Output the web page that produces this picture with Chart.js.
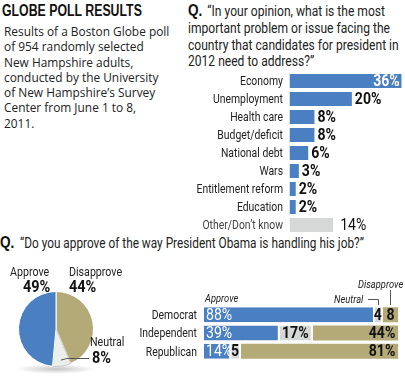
<!DOCTYPE html>
<html><head><meta charset="utf-8">
<script src="https://cdn.jsdelivr.net/npm/chart.js@4"></script>
<style>
html,body{margin:0;padding:0;background:#fff;}
body{width:405px;height:381px;position:relative;overflow:hidden;font-family:Roboto,sans-serif;color:#222;}
.t{position:absolute;white-space:nowrap;transform-origin:0 0;}
#title{left:2px;top:2px;font:bold 16px "Liberation Sans",sans-serif;color:#111;transform:scaleX(0.77);}
#body{left:4px;top:24px;font:13.5px "Open Sans",sans-serif;line-height:15.3px;color:#222;transform:scaleX(0.88);}
.qm{font:bold 16px "Liberation Sans",sans-serif;color:#111;transform:scaleX(0.85);}
.q1{font:15px Roboto,sans-serif;line-height:16.8px;color:#222;transform:scaleX(0.805);}
.q2{font:14px Roboto,sans-serif;color:#222;transform:scaleX(0.845);}
canvas{position:absolute;}
</style></head><body>
<div class="t" id="title">GLOBE POLL RESULTS</div>
<div class="t" id="body">Results of a Boston Globe poll<br>of 954 randomly selected<br>New Hampshire adults,<br>conducted by the University<br>of New Hampshire’s Survey<br>Center from June 1 to 8,<br>2011.</div>
<div class="t qm" style="left:188px;top:2px;">Q.</div>
<div class="t q1" style="left:188px;top:3px;"><span style="padding-left:24px">“In your opinion, what is the most</span><br>important problem or issue facing the<br>country that candidates for president in<br>2012 need to address?”</div>
<div class="t qm" style="left:0px;top:234px;">Q.</div>
<div class="t q2" style="left:20px;top:235px;">“Do you approve of the way President Obama is handling his job?”</div>

<canvas id="c1" width="215" height="162" style="left:190px;top:72px;width:215px;height:162px"></canvas>
<canvas id="c2" width="130" height="119" style="left:0px;top:262px;width:130px;height:119px"></canvas>
<canvas id="c3" width="305" height="90" style="left:100px;top:278px;width:305px;height:90px"></canvas>
<script>
// ---- data ----
const issueLabels = ["Economy","Unemployment","Health care","Budget/deficit","National debt","Wars","Entitlement reform","Education","Other/Don’t know"];
const issueValues = [36,20,8,8,6,3,2,2,14];
const pieLabels = ["Disapprove","Neutral","Approve"];
const pieValues = [44,8,49];
const partyLabels = ["Democrat","Independent","Republican"];
const partyApprove = [88,39,14];
const partyNeutral = [4,17,5];
const partyDisapprove = [8,44,81];

const BLUE="#4a7fc1", TAN="#b3aa78", GRAY="#d6d7d7", PIEGRAY="#eceeec";
const F='Roboto, sans-serif';

Chart.defaults.animation=false;

function txt(ctx,s,x,y,align,font,color,sx,base){
  ctx.save();ctx.font=font;ctx.fillStyle=color;ctx.textAlign=align;ctx.textBaseline=base||'middle';
  ctx.translate(x,y);ctx.scale(sx,1);ctx.fillText(s,0,0);ctx.restore();
}

// ---- chart 1: issues ----
new Chart(document.getElementById('c1'),{
  type:'bar',
  data:{labels:issueLabels,datasets:[{data:issueValues,
    backgroundColor:issueValues.map((v,i)=>i===issueValues.length-1?GRAY:BLUE),
    barPercentage:0.78,categoryPercentage:1}]},
  options:{indexAxis:'y',responsive:false,maintainAspectRatio:false,devicePixelRatio:1,
    layout:{padding:{left:99.5,right:3.3,top:0,bottom:0}},
    plugins:{legend:{display:false},tooltip:{enabled:false}},
    scales:{x:{display:false,min:0,max:36},y:{display:false}}},
  plugins:[{id:'vals',afterDatasetsDraw(ch){
    const ctx=ch.ctx, meta=ch.getDatasetMeta(0), ys=ch.scales.y;
    issueLabels.forEach((l,i)=>{
      txt(ctx,l,93,ys.getPixelForValue(i)+1,'right','13px '+F,i===8?'#444':'#222',0.8);
    });
    meta.data.forEach((b,i)=>{
      const v=issueValues[i], t=v+'%';
      if(i===0) txt(ctx,t,b.x-2,b.y+1,'right','bold 16px '+F,'#fff',0.88);
      else txt(ctx,t,b.x+(i===8?7:3),b.y+1,'left',(i===8?'':'bold ')+'16px '+F,'#111',0.88);
    });}}]
});

// ---- chart 2: pie ----
new Chart(document.getElementById('c2'),{
  type:'pie',
  data:{labels:pieLabels,datasets:[{data:pieValues,backgroundColor:[TAN,PIEGRAY,BLUE],
    borderColor:['#fff','#c8cac8','#fff'],borderWidth:1}]},
  options:{responsive:false,maintainAspectRatio:false,devicePixelRatio:1,
    layout:{padding:{left:18,right:36,top:29,bottom:14}},
    plugins:{legend:{display:false},tooltip:{enabled:false}}},
  plugins:[{id:'shadow',beforeDatasetsDraw(ch){
    const ctx=ch.ctx, a=ch.chartArea;
    const cx=(a.left+a.right)/2, cy=a.bottom+2;
    ctx.save();
    ctx.translate(cx,cy);ctx.scale(1,0.12);
    const g=ctx.createRadialGradient(0,0,0,0,0,40);
    g.addColorStop(0,'rgba(150,150,150,0.55)');g.addColorStop(1,'rgba(150,150,150,0)');
    ctx.fillStyle=g;ctx.beginPath();ctx.arc(0,0,40,0,Math.PI*2);ctx.fill();
    ctx.restore();
  },afterDatasetsDraw(ch){
    const ctx=ch.ctx, meta=ch.getDatasetMeta(0);
    txt(ctx,pieLabels[2],10,14,'left','13px '+F,'#222',0.82,'alphabetic');
    txt(ctx,pieLabels[0],69,14,'left','13px '+F,'#222',0.82,'alphabetic');
    txt(ctx,pieLabels[1],90,84,'left','13px '+F,'#222',0.82,'alphabetic');
    txt(ctx,pieValues[2]+'%',23,30,'left','bold 17px '+F,'#111',0.85,'alphabetic');
    txt(ctx,pieValues[0]+'%',69,30,'left','bold 17px '+F,'#111',0.85,'alphabetic');
    txt(ctx,pieValues[1]+'%',92,101,'left','bold 17px '+F,'#111',0.85,'alphabetic');
    const arc=meta.data[1];
    const mid=(arc.startAngle+arc.endAngle)/2;
    const px=arc.x+Math.cos(mid)*(arc.outerRadius-6), py=arc.y+Math.sin(mid)*(arc.outerRadius-6);
    ctx.save();ctx.strokeStyle='#555';ctx.lineWidth=1;
    ctx.beginPath();ctx.moveTo(px,py);ctx.lineTo(px+6,96.5);ctx.lineTo(89,96.5);ctx.stroke();
    ctx.restore();}}]
});

// ---- chart 3: party stacked ----
const bp=0.82;
new Chart(document.getElementById('c3'),{
  type:'bar',
  data:{labels:partyLabels,datasets:[
    {label:'Approve',data:partyApprove,backgroundColor:BLUE,borderColor:'#fff',borderWidth:{right:2},borderSkipped:false,barPercentage:bp,categoryPercentage:1},
    {label:'Neutral',data:partyNeutral,backgroundColor:GRAY,borderColor:'#fff',borderWidth:{right:2},borderSkipped:false,barPercentage:bp,categoryPercentage:1},
    {label:'Disapprove',data:partyDisapprove,backgroundColor:TAN,borderWidth:0,barPercentage:bp,categoryPercentage:1}]},
  options:{indexAxis:'y',responsive:false,maintainAspectRatio:false,devicePixelRatio:1,
    layout:{padding:{left:104,right:6.7,top:27.5,bottom:7.5}},
    plugins:{legend:{display:false},tooltip:{enabled:false}},
    scales:{x:{display:false,stacked:true,min:0,max:100},y:{display:false,stacked:true}}},
  plugins:[{id:'vals',afterDatasetsDraw(ch){
    const ctx=ch.ctx, ys=ch.scales.y;
    const mA=ch.getDatasetMeta(0),mN=ch.getDatasetMeta(1),mD=ch.getDatasetMeta(2);
    for(let i=0;i<3;i++){
      txt(ctx,partyLabels[i],97,ys.getPixelForValue(i)+1,'right','13px '+F,'#222',0.8);
      const a=mA.data[i],n=mN.data[i],d=mD.data[i];
      txt(ctx,partyApprove[i]+'%',a.base+2,a.y+1,'left','16px '+F,'#fff',0.88);
      const nt=partyNeutral[i]+(i===1?'%':'');
      txt(ctx,nt,(n.base+n.x-2)/2,n.y+1,'center','bold 16px '+F,'#111',0.88);
      const dt=partyDisapprove[i]+(i===0?'':'%');
      if(i===0) txt(ctx,dt,(d.base+d.x)/2,d.y+1,'center','bold 16px '+F,'#111',0.88);
      else txt(ctx,dt,d.x-3,d.y+1,'right','bold 16px '+F,'#111',0.88);
    }
    txt(ctx,'Approve',mA.data[0].base+1,24,'left','italic 11px '+F,'#222',0.85,'alphabetic');
    txt(ctx,'Neutral',234,25,'left','italic 11px '+F,'#222',0.85,'alphabetic');
    txt(ctx,'Disapprove',258,10,'left','italic 11px '+F,'#222',0.85,'alphabetic');
    ctx.save();ctx.strokeStyle='#555';ctx.lineWidth=1;
    const n0=mN.data[0], d0=mD.data[0];
    const nx=Math.round((n0.base+n0.x-2)/2)+0.5, dx=Math.round((d0.base+d0.x)/2)-0.5;
    ctx.beginPath();ctx.moveTo(268,21.5);ctx.lineTo(nx,21.5);ctx.lineTo(nx,27);ctx.stroke();
    ctx.beginPath();ctx.moveTo(dx,12);ctx.lineTo(dx,27);ctx.stroke();
    ctx.restore();}}]
});
</script>
</body></html>
